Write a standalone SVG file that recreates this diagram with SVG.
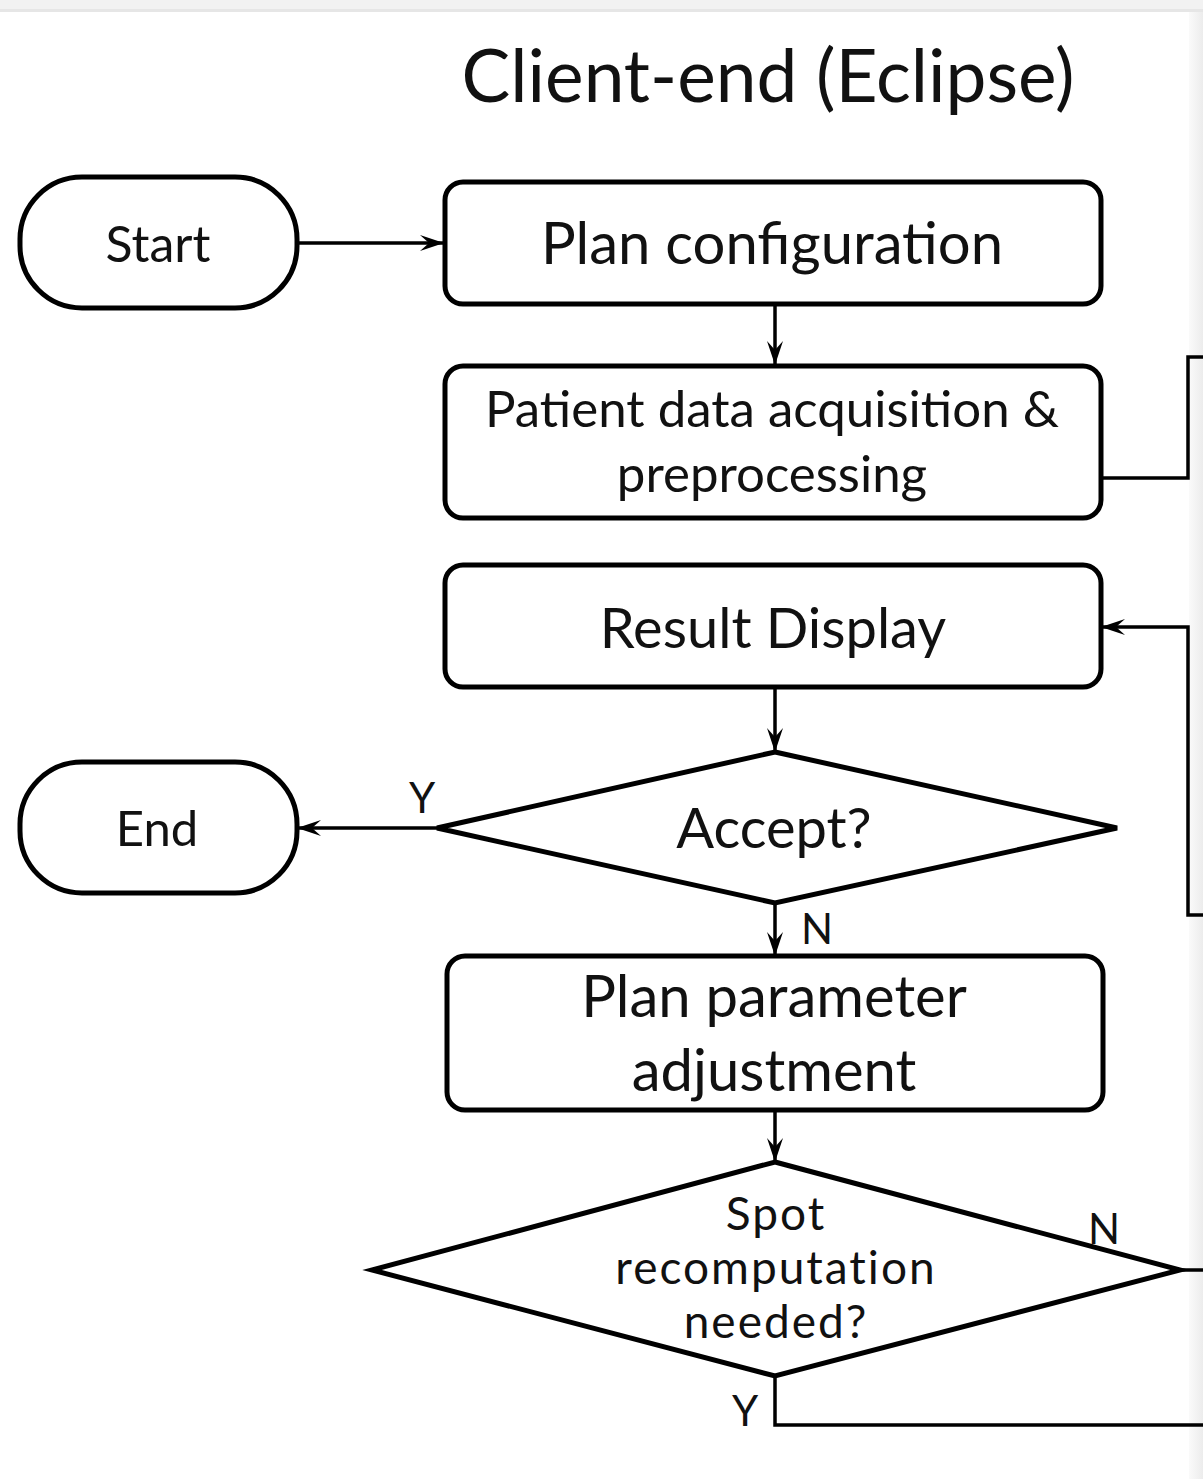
<svg xmlns="http://www.w3.org/2000/svg" width="1203" height="1479" viewBox="0 0 1203 1479">
<defs>
<linearGradient id="strip" x1="0" y1="0" x2="1" y2="0">
<stop offset="0" stop-color="#fafafa"/>
<stop offset="1" stop-color="#ececec"/>
</linearGradient>
<marker id="arr" markerWidth="24" markerHeight="18" refX="23" refY="9" orient="auto" markerUnits="userSpaceOnUse">
<path d="M0,1 L24,9 L0,17 L9,9 z" fill="#000"/>
</marker>
<style>
.box{fill:#fff;stroke:#000;stroke-width:5}
.ln{fill:none;stroke:#000;stroke-width:3.5}
.t{font-family:Lato,"Open Sans",sans-serif;fill:#111;text-anchor:middle}
.sp{font-size:46px;letter-spacing:2px}
</style>
</defs>
<rect x="0" y="0" width="1203" height="1479" fill="#fff"/>
<rect x="0" y="0" width="1203" height="10" fill="#f2f2f2"/>
<rect x="0" y="9" width="1203" height="3" fill="#e6e6e6"/>
<rect x="1189" y="12" width="14" height="1467" fill="url(#strip)"/>
<text class="t" x="768" y="102" font-size="73">Client-end (Eclipse)</text>

<g id="connectors">
<line class="ln" x1="297" y1="243" x2="443" y2="243" marker-end="url(#arr)"/>
<line class="ln" x1="775" y1="304" x2="775" y2="364" marker-end="url(#arr)"/>
<polyline class="ln" points="1101,478 1188,478 1188,357 1203,357"/>
<polyline class="ln" points="1203,915 1188,915 1188,627 1102,627" marker-end="url(#arr)"/>
<line class="ln" x1="775" y1="687" x2="775" y2="751" marker-end="url(#arr)"/>
<line class="ln" x1="437" y1="828" x2="298" y2="828" marker-end="url(#arr)"/>
<line class="ln" x1="775" y1="903" x2="775" y2="955" marker-end="url(#arr)"/>
<line class="ln" x1="775" y1="1110" x2="775" y2="1161" marker-end="url(#arr)"/>
<line class="ln" x1="1180" y1="1270" x2="1203" y2="1270"/>
<polyline class="ln" points="775,1376 775,1425 1203,1425"/>
<text class="t" x="422" y="813" font-size="42">Y</text>
<text class="t" x="817" y="944" font-size="42">N</text>
<text class="t" x="1104" y="1244" font-size="42">N</text>
<text class="t" x="745" y="1426" font-size="42">Y</text>
</g>

<g id="start">
<rect class="box" x="20" y="177" width="277" height="131" rx="62" ry="62"/>
<text class="t" x="158" y="262" font-size="50">Start</text>
</g>
<g id="plan-config">
<rect class="box" x="445" y="182" width="656" height="122" rx="18" ry="18"/>
<text class="t" x="772" y="264" font-size="58">Plan configuration</text>
</g>
<g id="patient-data">
<rect class="box" x="445" y="366" width="656" height="152" rx="18" ry="18"/>
<text class="t" x="772" y="427" font-size="51">Patient data acquisition &amp;</text>
<text class="t" x="772" y="492" font-size="51">preprocessing</text>
</g>
<g id="result-display">
<rect class="box" x="445" y="565" width="656" height="122" rx="18" ry="18"/>
<text class="t" x="773" y="648" font-size="56">Result Display</text>
</g>
<g id="accept">
<polygon class="box" points="775,752 1117,828 775,903 437,828"/>
<text class="t" x="774" y="848" font-size="56">Accept?</text>
</g>
<g id="end">
<rect class="box" x="20" y="762" width="277" height="131" rx="62" ry="62"/>
<text class="t" x="157" y="846" font-size="49">End</text>
</g>
<g id="plan-param">
<rect class="box" x="447" y="956" width="656" height="154" rx="18" ry="18"/>
<text class="t" x="774" y="1017" font-size="58">Plan parameter</text>
<text class="t" x="774" y="1091" font-size="58">adjustment</text>
</g>
<g id="spot">
<polygon class="box" points="775,1162 1180,1270 775,1376 372,1270"/>
<text class="t sp" x="776" y="1230">Spot</text>
<text class="t sp" x="776" y="1284">recomputation</text>
<text class="t sp" x="776" y="1338">needed?</text>
</g>
</svg>
